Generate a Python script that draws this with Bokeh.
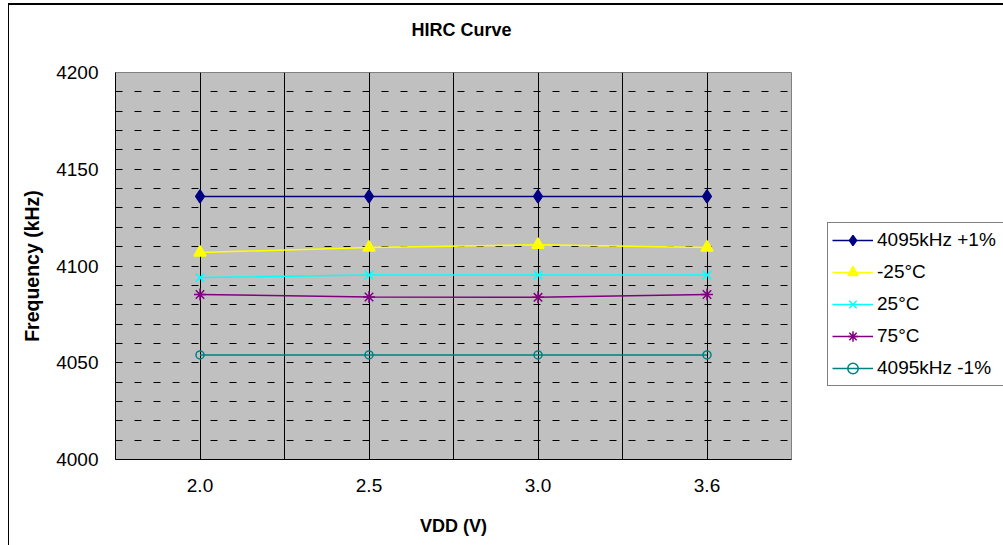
from bokeh.plotting import figure
from bokeh.layouts import row
from bokeh.models import Legend, LegendItem, FixedTicker, SingleIntervalTicker, Range1d, Title
from bokeh.embed import file_html
from bokeh.resources import INLINE

# ---- data ----
vdd_labels = ["2.0", "2.5", "3.0", "3.6"]
upper_limit = [4135.95, 4135.95, 4135.95, 4135.95]   # 4095kHz +1%
t_minus25 = [4107.0, 4109.5, 4111.0, 4109.5]          # -25°C
t_25 = [4094.0, 4095.3, 4095.3, 4095.3]               # 25°C
t_75 = [4085.3, 4084.0, 4083.8, 4085.3]               # 75°C
lower_limit = [4054.05, 4054.05, 4054.05, 4054.05]   # 4095kHz -1%
series_names = ["4095kHz +1%", "-25°C", "25°C", "75°C", "4095kHz -1%"]
series_values = [upper_limit, t_minus25, t_25, t_75, lower_limit]

colors = ["#000080", "#FFFF00", "#00FFFF", "#800080", "#008080"]
markers = ["diamond", "triangle", "x", "asterisk", "circle"]
msizes = [13, 12, 12, 12, 8]
fills = ["#000080", "#FFFF00", None, None, None]

xs = list(range(1, len(vdd_labels) + 1))
FONT = "Liberation Sans"

p = figure(width=802, height=540, x_range=Range1d(0.5, 4.5), y_range=Range1d(4000, 4200),
           output_backend="svg", toolbar_location=None, title=None,
           min_border_left=106, min_border_right=20, min_border_top=67, min_border_bottom=86)

p.background_fill_color = "#C0C0C0"
p.border_fill_color = "white"
p.outline_line_color = "#808080"
p.outline_line_width = 1

# grids
p.xgrid.ticker = FixedTicker(ticks=[0.5, 1, 1.5, 2, 2.5, 3, 3.5, 4, 4.5])
p.xgrid.grid_line_color = "black"
p.xgrid.grid_line_width = 1
p.ygrid.ticker = SingleIntervalTicker(interval=10)
p.ygrid.grid_line_color = "black"
p.ygrid.grid_line_width = 1
p.ygrid.grid_line_dash = "7 12"

# axes
p.xaxis.ticker = FixedTicker(ticks=xs)
p.xaxis.major_label_overrides = {x: l for x, l in zip(xs, vdd_labels)}
p.yaxis.ticker = SingleIntervalTicker(interval=50)
for ax in (p.xaxis[0], p.yaxis[0]):
    ax.axis_line_color = "black"
    ax.axis_line_width = 1
    ax.major_tick_out = 0
    ax.major_tick_in = 0
    ax.minor_tick_out = 0
    ax.minor_tick_in = 0
    ax.major_label_text_font = FONT
    ax.major_label_text_font_size = "19px"
    ax.major_label_text_color = "black"
    ax.axis_label_text_font = FONT
    ax.axis_label_text_font_style = "bold"
    ax.axis_label_text_color = "black"
p.xaxis.axis_label = "VDD (V)"
p.yaxis.axis_label = "Frequency (kHz)"
p.xaxis.axis_label_text_font_size = "18px"
p.yaxis.axis_label_text_font_size = "19.5px"
p.xaxis.major_label_standoff = 19
p.xaxis.axis_label_standoff = 21
p.yaxis.major_label_standoff = 17
p.yaxis.axis_label_standoff = 10

# title (a blank spacer title next to the frame lifts the real title up)
p.add_layout(Title(text=" ", text_font_size="1px", standoff=28), "above")
p.add_layout(Title(text="HIRC Curve", align="left", vertical_align="top", text_font=FONT,
                   text_font_size="18px", text_font_style="bold", text_color="black",
                   standoff=0, offset=296), "above")

# series on the chart
for vals, c, m, s, f in zip(series_values, colors, markers, msizes, fills):
    p.line(xs, vals, line_color=c, line_width=1.5)
    p.scatter(xs, vals, marker=m, size=s, fill_color=f, line_color=c, line_width=1.5)

# legend holder (same series, drawn outside its visible range so only the legend shows)
p2 = figure(width=192, height=540, x_range=Range1d(-10, -9), y_range=Range1d(-10, -9),
            output_backend="svg", toolbar_location=None, x_axis_type=None, y_axis_type=None,
            min_border=0)
p2.grid.visible = False
p2.outline_line_color = None
p2.background_fill_color = "white"
p2.border_fill_color = "white"

items = []
for name, vals, c, m, s, f in zip(series_names, series_values, colors, markers, msizes, fills):
    rl = p2.line(xs, vals, line_color=c, line_width=1.5)
    rm = p2.scatter(xs, vals, marker=m, size=s, fill_color=f, line_color=c, line_width=1.5)
    items.append(LegendItem(label=name, renderers=[rl, rm]))

legend = Legend(items=items, location=(16, 73), border_line_color="black", border_line_width=1,
                background_fill_color="white", background_fill_alpha=1.0,
                label_text_font=FONT, label_text_font_size="19px", label_text_color="black",
                glyph_width=41, glyph_height=26, label_height=26, label_width=140,
                spacing=6, padding=4, margin=0, label_standoff=4)
p2.add_layout(legend, "center")

layout = row(p, p2)
layout.styles = {"margin-left": "8px", "margin-top": "3px",
                 "border-left": "1px solid black", "border-top": "2px solid black"}

open("out.html", "w").write(file_html(layout, INLINE))
